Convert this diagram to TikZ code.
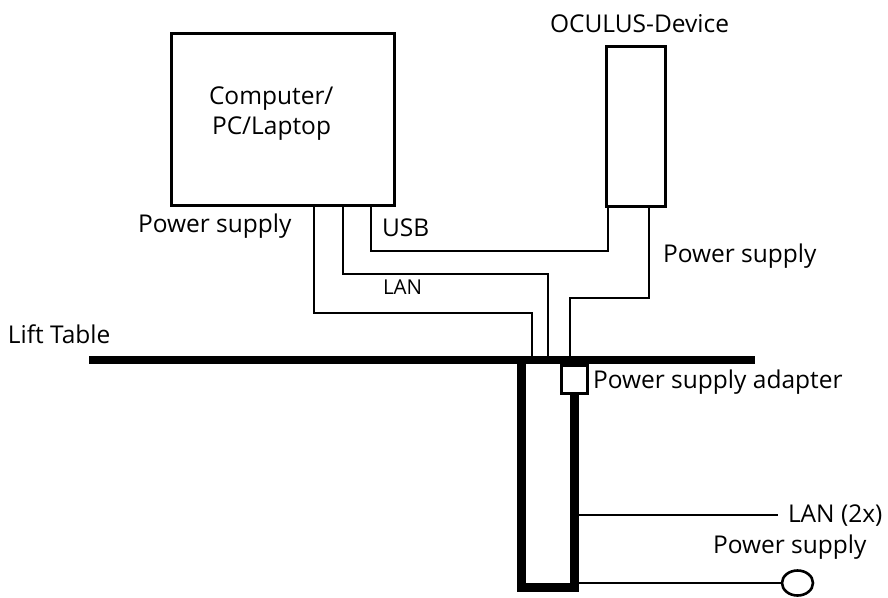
\documentclass[tikz,border=0pt]{standalone}
\usepackage{fontspec}
\setmainfont{Open Sans}
\usetikzlibrary{shapes.geometric}
\begin{document}
\begin{tikzpicture}[x=1pt,y=-1pt,
  wire/.style={line width=2.6pt},
  boxst/.style={draw,line width=3pt,inner sep=0pt,outer sep=0pt},
  lbl/.style={anchor=base west,inner sep=0pt,outer sep=0pt,font=\fontsize{24.5}{30}\selectfont},
  smalllbl/.style={lbl,font=\fontsize{20.5}{25}\selectfont},
  heavy/.style={line width=9pt,line join=miter}]
\useasboundingbox (0,0) rectangle (888,597);
% devices
\node[boxst,minimum width=222.5pt,minimum height=172pt] (pc) at (282.75,119) {};
\node[lbl] (pct1) at (209,104) {Computer/};
\node[lbl] (pct2) at (212,134) {PC/Laptop};
\node[boxst,minimum width=59pt,minimum height=160pt] (oc) at (636,126.5) {};
\node[lbl] (oct) at (550,32) {OCULUS-Device};
% lift table
\coordinate (tl) at (89,360);
\coordinate (tr) at (755,360);
\draw[line width=8pt] (tl) -- (tr);
\node[lbl] (lift) at (8,343) {Lift Table};
% adapter and column
\node[boxst,minimum width=26pt,minimum height=28pt] (ad) at (574.5,379.5) {};
\coordinate (cl) at (521.5,587.5);
\draw[heavy] (tl -| cl) -- (cl) -- (cl -| ad.south) -- (ad.south);
% x positions
\coordinate (xp) at (314,0);
\coordinate (xl) at (343,0);
\coordinate (xu) at (371,0);
\coordinate (xo) at (649,0);
% wires
\draw[wire] (pc.south -| xp) |- (532,313) -- (tl -| 532,0);
\draw[wire] (pc.south -| xl) |- (548,274) -- (tl -| 548,0);
\draw[wire] (pc.south -| xu) |- (608,251) -- (oc.south -| 608,0);
\draw[wire] (oc.south -| xo) |- (570,298) -- (tl -| 570,0);
% labels of wires
\node[lbl] (ps1) at (138,232) {Power supply};
\node[lbl] (usb) at (382,236) {USB};
\node[smalllbl] (lan) at (383,294) {LAN};
\node[lbl] (ps2) at (663,262) {Power supply};
\node[lbl] (adt) at (593,388) {Power supply adapter};
% outgoing
\coordinate (lanend) at (778,515);
\draw[wire] (lanend -| ad.south) -- (lanend);
\node[lbl] (lan2) at (788,522) {LAN (2x)};
\node[draw,ellipse,line width=2.6pt,minimum width=31pt,minimum height=25pt,inner sep=0pt,outer sep=0pt] (plug) at (797.5,583) {};
\draw[wire] (plug.west -| ad.south) -- (plug.west);
\node[lbl] (ps3) at (713,553) {Power supply};
\end{tikzpicture}
\end{document}
